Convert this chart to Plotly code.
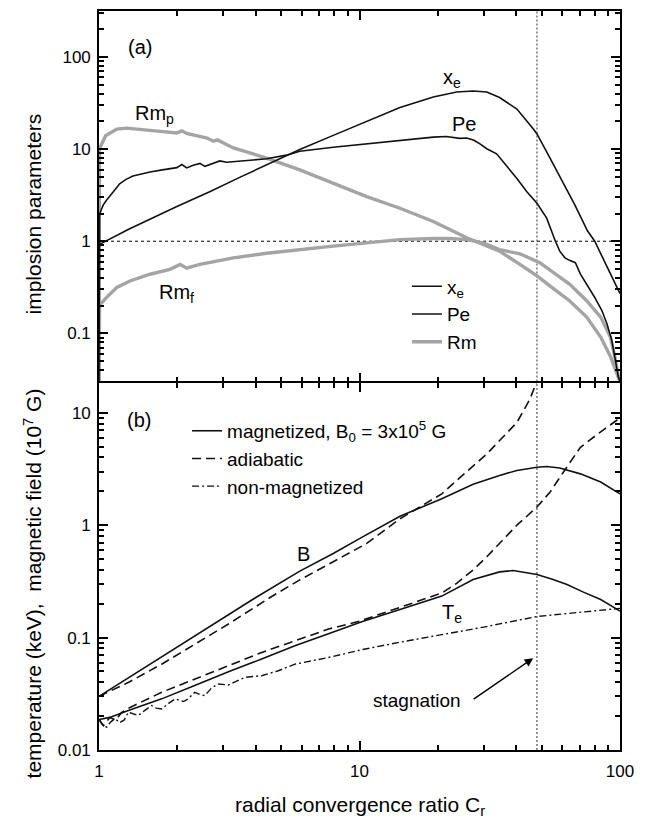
import math
import plotly.graph_objects as go

# ---------------- panel (a): implosion parameters ----------------
CR_XE = [1.0, 1.3, 2.0, 2.66, 3.5, 4.5, 5.9, 7.93, 10.66, 14.3, 19.2, 23.6, 27.3,
         30.8, 34.5, 40.2, 46.4, 48.0, 54.0, 60.0, 67.0, 75.0, 80.0, 90.0, 100.0]
XE = [0.92, 1.35, 2.4, 3.45, 5.0, 7.0, 9.9, 14.1, 20.0, 28.3, 36.9, 41.7, 42.7,
      41.7, 36.3, 27.2, 16.6, 14.6, 7.9, 4.5, 2.5, 1.3, 1.0, 0.5, 0.27]

CR_PE = [1.0, 1.005, 1.02, 1.039, 1.07, 1.10, 1.135, 1.2, 1.27, 1.35, 1.45, 1.57,
         1.75, 1.99, 2.08, 2.17, 2.30, 2.44, 2.55, 2.75, 2.91, 3.09, 3.28, 3.8,
         4.4, 5.25, 5.9, 7.93, 10.66, 14.3, 19.2, 21.5, 24.3, 25.8, 27.5, 29.0,
         30.8, 33.6, 36.6, 40.2, 43.9, 48.0, 52.3, 54.6, 56.5, 58.7, 61.5, 64.0,
         67.4, 70.5, 75.9, 80.0, 85.2, 89.1, 93.0, 95.5, 98.5, 100.0]
PE = [0.03, 1.95, 2.2, 2.48, 2.8, 3.05, 3.45, 4.2, 4.7, 5.1, 5.4, 5.65,
      5.95, 6.3, 6.8, 6.25, 6.7, 7.0, 6.5, 7.1, 7.45, 7.2, 7.3, 7.6,
      7.85, 8.6, 9.5, 10.5, 11.4, 12.6, 13.5, 13.7, 13.1, 13.2, 12.5, 11.4,
      10.1, 8.9, 6.7, 4.8, 3.45, 2.58, 1.78, 1.28, 1.0, 0.78, 0.66, 0.62,
      0.585, 0.44, 0.315, 0.245, 0.177, 0.127, 0.084, 0.055, 0.034, 0.03]

CR_RMP = [1.0, 1.004, 1.06, 1.17, 1.277, 1.4, 1.57, 1.8, 1.99, 2.08, 2.17, 2.4,
          2.6, 2.75, 2.85, 3.28, 4.4, 5.9, 7.93, 10.66, 14.3, 19.2, 25.8, 30.0,
          34.5, 41.3, 48.0, 56.0, 64.0, 74.5, 84.3, 91.9, 97.3, 100.0]
RMP = [0.03, 10.1, 14.0, 16.5, 16.9, 16.4, 15.9, 15.4, 15.0, 15.8, 14.8, 14.0,
       13.2, 12.2, 12.6, 10.3, 8.0, 5.95, 4.24, 3.05, 2.28, 1.64, 1.09, 0.92,
       0.78, 0.56, 0.42, 0.30, 0.226, 0.15, 0.091, 0.056, 0.037, 0.03]

CR_RMF = [1.0, 1.005, 1.018, 1.07, 1.17, 1.315, 1.57, 1.87, 2.05, 2.17, 2.44,
          2.62, 3.28, 4.4, 5.9, 7.93, 10.66, 14.3, 19.2, 22.2, 25.8, 29.8, 34.5,
          41.3, 49.2, 56.0, 64.0, 74.5, 84.3, 91.9, 95.5, 98.5, 100.0]
RMF = [0.03, 0.2, 0.21, 0.246, 0.315, 0.37, 0.438, 0.496, 0.56, 0.51, 0.56,
       0.585, 0.66, 0.74, 0.814, 0.884, 0.96, 1.04, 1.07, 1.07, 1.04, 0.96, 0.81,
       0.73, 0.585, 0.45, 0.342, 0.226, 0.15, 0.091, 0.056, 0.034, 0.03]

# ---------------- panel (b): temperature and magnetic field ----------------
CR_BMAG = [1.0, 1.3, 1.74, 2.33, 3.14, 3.97, 5.9, 7.93, 10.0, 14.3, 20.7, 27.3,
           34.5, 40.2, 48.0, 52.3, 58.7, 70.5, 84.3, 100.0]
B_MAG = [0.030, 0.044, 0.068, 0.104, 0.16, 0.225, 0.39, 0.56, 0.76, 1.2, 1.72, 2.31,
         2.77, 3.07, 3.28, 3.33, 3.23, 2.86, 2.42, 1.90]

CR_BADI = [1.0, 1.3, 1.74, 2.33, 3.14, 4.6, 5.9, 7.93, 10.66, 14.3, 17.0, 20.7,
           23.6, 27.3, 30.8, 34.5, 40.2, 45.1, 48.0, 50.0]
B_ADI = [0.030, 0.040, 0.058, 0.087, 0.132, 0.232, 0.326, 0.473, 0.688, 1.14, 1.45, 1.90,
         2.5, 3.4, 4.3, 5.66, 8.2, 13.2, 19.4, 24.5]

CR_TMAG = [1.0, 1.1, 1.296, 1.74, 2.33, 3.14, 4.21, 5.65, 7.6, 10.2, 14.3, 20.7,
           27.3, 34.5, 38.9, 43.9, 48.0, 55.0, 62.6, 72.0, 84.3, 100.0]
T_MAG = [0.0187, 0.0195, 0.0224, 0.0285, 0.0374, 0.0497, 0.0644, 0.0845, 0.108, 0.138,
         0.178, 0.234, 0.329, 0.384, 0.395, 0.375, 0.364, 0.33, 0.297, 0.255, 0.218, 0.172]

CR_TADI = [1.0, 1.04, 1.1, 1.16, 1.22, 1.296, 1.74, 2.33, 3.14, 4.21, 5.65, 7.6,
           10.0, 14.3, 20.7, 23.6, 27.3, 30.8, 34.5, 40.2, 48.0, 53.9, 60.6, 70.5,
           83.8, 100.0]
T_ADI = [0.0187, 0.0165, 0.0195, 0.0185, 0.0215, 0.0235, 0.0326, 0.0428, 0.0562, 0.0737,
         0.0935, 0.119, 0.14, 0.187, 0.249, 0.304, 0.40, 0.524, 0.688, 1.0, 1.45, 1.97,
         2.96, 4.93, 6.7, 9.0]

CR_TNON = [1.0, 1.035, 1.07, 1.11, 1.152, 1.2, 1.25, 1.296, 1.35, 1.415, 1.5, 1.59,
           1.66, 1.74, 1.85, 1.96, 2.11, 2.2, 2.33, 2.45, 2.55, 2.7, 2.87, 3.14,
           3.63, 4.21, 4.88, 5.65, 7.6, 10.2, 14.3, 20.7, 30.0, 48.0, 70.0, 100.0]
T_NON = [0.0187, 0.0165, 0.016, 0.0178, 0.019, 0.0175, 0.0185, 0.0217, 0.021, 0.0203,
         0.0225, 0.0249, 0.0236, 0.0232, 0.026, 0.0285, 0.027, 0.0285, 0.0326, 0.031,
         0.0305, 0.0355, 0.0387, 0.0379, 0.0443, 0.0458, 0.0507, 0.058, 0.0665, 0.078,
         0.091, 0.106, 0.124, 0.154, 0.168, 0.182]

STAGNATION_CR = 48.0
UNITY = 1.0

X_RANGE = [1.0, 100.0]
YA_RANGE = [0.03, 316.0]
YB_RANGE = [0.01, 18.4]

# labelled tick positions
X_MAJOR = [1, 10, 100]
YA_MAJOR = [0.1, 1, 10, 100]
YB_MAJOR = [0.01, 0.1, 1, 10]

FONT = "Liberation Sans, Arial, Helvetica, sans-serif"
BLACK = "#000000"
INK = "#111111"
GRAY = "#a4a4a4"

WIDTH, HEIGHT = 645, 823
MARGIN = dict(l=99, r=25, t=9, b=73)
PLOT_H = HEIGHT - MARGIN["t"] - MARGIN["b"]
SPLIT_A = 369.5 / PLOT_H   # bottom of panel (a)
SPLIT_B = 368.0 / PLOT_H   # top of panel (b)

fig = go.Figure()

# ---- panel (a) curves ----
fig.add_trace(go.Scatter(x=X_RANGE, y=[UNITY, UNITY], mode="lines", xaxis="x", yaxis="y",
                         line=dict(color=BLACK, width=1, dash="3px,3px"), showlegend=False,
                         hoverinfo="skip"))
fig.add_trace(go.Scatter(x=[STAGNATION_CR, STAGNATION_CR], y=YA_RANGE, mode="lines",
                         xaxis="x", yaxis="y", line=dict(color="#333333", width=1, dash="2px,2px"),
                         showlegend=False, hoverinfo="skip"))
fig.add_trace(go.Scatter(x=CR_RMP, y=RMP, mode="lines", xaxis="x", yaxis="y",
                         line=dict(color=GRAY, width=3.4), name="Rm", legend="legend2",
                         legendrank=3))
fig.add_trace(go.Scatter(x=CR_RMF, y=RMF, mode="lines", xaxis="x", yaxis="y",
                         line=dict(color=GRAY, width=3.4), showlegend=False))
fig.add_trace(go.Scatter(x=CR_XE, y=XE, mode="lines", xaxis="x", yaxis="y",
                         line=dict(color=INK, width=1.6), name="x<sub>e</sub>",
                         legend="legend2", legendrank=1))
fig.add_trace(go.Scatter(x=CR_PE, y=PE, mode="lines", xaxis="x", yaxis="y",
                         line=dict(color=INK, width=1.6), name="Pe",
                         legend="legend2", legendrank=2))

# ---- panel (b) curves ----
fig.add_trace(go.Scatter(x=[STAGNATION_CR, STAGNATION_CR], y=YB_RANGE, mode="lines",
                         xaxis="x2", yaxis="y2", line=dict(color="#333333", width=1, dash="2px,2px"),
                         showlegend=False, hoverinfo="skip"))
fig.add_trace(go.Scatter(x=CR_BMAG, y=B_MAG, mode="lines", xaxis="x2", yaxis="y2",
                         line=dict(color=INK, width=1.6),
                         name="magnetized, B<sub>0</sub> = 3x10<sup>5</sup> G",
                         legend="legend", legendrank=1))
fig.add_trace(go.Scatter(x=CR_BADI, y=B_ADI, mode="lines", xaxis="x2", yaxis="y2",
                         line=dict(color=INK, width=1.6, dash="9px,5px"), name="adiabatic",
                         legend="legend", legendrank=2))
fig.add_trace(go.Scatter(x=CR_TMAG, y=T_MAG, mode="lines", xaxis="x2", yaxis="y2",
                         line=dict(color=INK, width=1.6), showlegend=False))
fig.add_trace(go.Scatter(x=CR_TADI, y=T_ADI, mode="lines", xaxis="x2", yaxis="y2",
                         line=dict(color=INK, width=1.6, dash="9px,5px"), showlegend=False))
fig.add_trace(go.Scatter(x=CR_TNON, y=T_NON, mode="lines", xaxis="x2", yaxis="y2",
                         line=dict(color=INK, width=1.4, dash="7px,3px,2px,3px"),
                         name="non-magnetized", legend="legend", legendrank=3))

# inward major and minor ticks, mirrored on the opposite frame sides
MINOR = dict(ticks="inside", ticklen=5, tickwidth=1.6, tickcolor=BLACK, dtick="D1",
             showgrid=False)
axis_common = dict(type="log", showline=True, linecolor=BLACK, linewidth=1.6,
                   mirror="ticks", ticks="inside", ticklen=9, tickwidth=2,
                   tickcolor=BLACK, showgrid=False, zeroline=False, tickmode="array",
                   tickfont=dict(family=FONT, size=17, color=BLACK), minor=MINOR)

fig.update_layout(
    width=WIDTH, height=HEIGHT,
    margin=MARGIN,
    paper_bgcolor="white", plot_bgcolor="white",
    font=dict(family=FONT, color=BLACK),
    xaxis=dict(axis_common, anchor="y", domain=[0, 1], tickvals=X_MAJOR,
               ticktext=[f"{v:g}" for v in X_MAJOR], showticklabels=False,
               range=[math.log10(X_RANGE[0]), math.log10(X_RANGE[1])]),
    yaxis=dict(axis_common, anchor="x", domain=[SPLIT_A, 1], tickvals=YA_MAJOR,
               ticktext=[f"{v:g}" for v in YA_MAJOR], ticklabelstandoff=3,
               range=[math.log10(YA_RANGE[0]), math.log10(YA_RANGE[1])]),
    xaxis2=dict(axis_common, anchor="y2", domain=[0, 1], tickvals=X_MAJOR,
                ticktext=[f"{v:g}" for v in X_MAJOR], ticklabelstandoff=5,
                range=[math.log10(X_RANGE[0]), math.log10(X_RANGE[1])]),
    yaxis2=dict(axis_common, anchor="x2", domain=[0, SPLIT_B], tickvals=YB_MAJOR,
                ticktext=[f"{v:g}" for v in YB_MAJOR], ticklabelstandoff=3,
                range=[math.log10(YB_RANGE[0]), math.log10(YB_RANGE[1])]),
    legend=dict(x=0.169, y=0.4575, xanchor="left", yanchor="top", bgcolor="rgba(0,0,0,0)",
                font=dict(family=FONT, size=19, color=BLACK), traceorder="normal"),
    legend2=dict(x=0.591, y=0.653, xanchor="left", yanchor="top", bgcolor="rgba(0,0,0,0)",
                 font=dict(family=FONT, size=19, color=BLACK), traceorder="normal"),
)


def label(text, cr, val, axes, size=20):
    xr, yr = axes
    return dict(text=text, x=math.log10(cr), y=math.log10(val), xref=xr, yref=yr,
                showarrow=False, font=dict(family=FONT, size=size, color=BLACK),
                xanchor="center", yanchor="middle")


annotations = [
    label("(a)", 1.44, 127, ("x", "y")),
    label("x<sub>e</sub>", 22.7, 58.7, ("x", "y")),
    label("Pe", 25.2, 18.7, ("x", "y")),
    label("Rm<sub>p</sub>", 1.64, 24, ("x", "y")),
    label("Rm<sub>f</sub>", 1.99, 0.27, ("x", "y")),
    label("(b)", 1.42, 8.7, ("x2", "y2")),
    label("B", 6.07, 0.557, ("x2", "y2")),
    label("T<sub>e</sub>", 22.7, 0.164, ("x2", "y2")),
    label("stagnation", 16.6, 0.0273, ("x2", "y2"), size=19),
    dict(text="", x=math.log10(46.4), y=math.log10(0.0656), xref="x2", yref="y2",
         showarrow=True, arrowhead=2, arrowsize=1.2, arrowwidth=1.4, arrowcolor=BLACK,
         ax=-61, ay=42),
    dict(text="implosion parameters", x=-0.1267, y=0.726, xref="paper", yref="paper",
         textangle=-90, showarrow=False, font=dict(family=FONT, size=21, color=BLACK),
         xanchor="center", yanchor="middle"),
    dict(text="temperature (keV),  magnetic field (10<sup>7</sup> G)", x=-0.1267, y=0.2254,
         xref="paper", yref="paper", textangle=-90, showarrow=False,
         font=dict(family=FONT, size=21, color=BLACK), xanchor="center", yanchor="middle"),
    dict(text="radial convergence ratio C<sub>r</sub>", x=0.5, y=-0.0756, xref="paper",
         yref="paper", showarrow=False, font=dict(family=FONT, size=21, color=BLACK),
         xanchor="center", yanchor="middle"),
]
fig.update_layout(annotations=annotations)

fig.write_html("out.html")
